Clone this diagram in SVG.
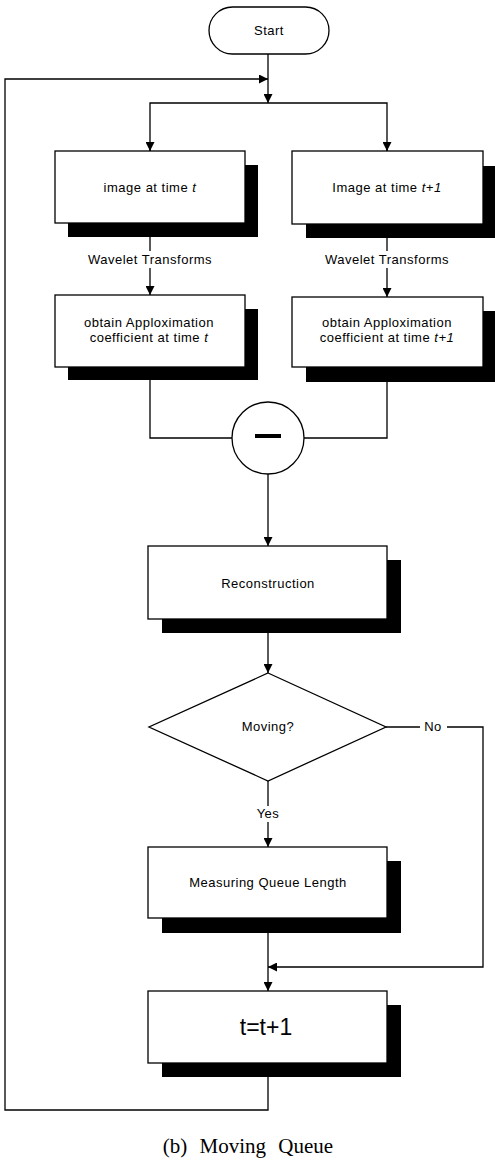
<svg xmlns="http://www.w3.org/2000/svg" width="495" height="1161" viewBox="0 0 495 1161">
<defs>
<style>
.box{fill:#fff;stroke:#000;stroke-width:1.3}
.sh{fill:#000}
.ln{fill:none;stroke:#000;stroke-width:1.3}
.t{font-family:"Liberation Sans",Arial,sans-serif;font-size:13px;letter-spacing:0.5px;fill:#000;text-anchor:middle}
.cap{font-family:"Liberation Serif","Times New Roman",serif;font-size:21px;word-spacing:7px;fill:#000;text-anchor:middle}
</style>
<marker id="ah" viewBox="0 0 10 10" refX="10" refY="5" markerWidth="9" markerHeight="9" markerUnits="userSpaceOnUse" orient="auto">
<path d="M0,0 L10,5 L0,10 Z" fill="#000"/>
</marker>
</defs>
<rect width="495" height="1161" fill="#fff"/>

<g id="connectors">
<polyline class="ln" points="268,1077 268,1110 5,1110 5,79 268,79" marker-end="url(#ah)"/>
<line class="ln" x1="268" y1="54" x2="268" y2="103" marker-end="url(#ah)"/>
<polyline class="ln" points="150,151 150,103 387,103 387,151"/>
<line class="ln" x1="150" y1="142" x2="150" y2="151" marker-end="url(#ah)"/>
<line class="ln" x1="387" y1="142" x2="387" y2="151" marker-end="url(#ah)"/>
<line class="ln" x1="150" y1="237" x2="150" y2="251"/>
<line class="ln" x1="150" y1="268" x2="150" y2="295" marker-end="url(#ah)"/>
<line class="ln" x1="387" y1="238" x2="387" y2="251"/>
<line class="ln" x1="387" y1="268" x2="387" y2="297" marker-end="url(#ah)"/>
<polyline class="ln" points="150,380 150,438 232,438"/>
<polyline class="ln" points="387,382 387,438 304,438"/>
<line class="ln" x1="268" y1="474" x2="268" y2="546" marker-end="url(#ah)"/>
<line class="ln" x1="268" y1="633" x2="268" y2="673" marker-end="url(#ah)"/>
<line class="ln" x1="268" y1="781" x2="268" y2="806"/>
<line class="ln" x1="268" y1="822" x2="268" y2="847" marker-end="url(#ah)"/>
<line class="ln" x1="386" y1="727" x2="420" y2="727"/>
<polyline class="ln" points="447,727 483,727 483,967 268,967" marker-end="url(#ah)"/>
<line class="ln" x1="268" y1="933" x2="268" y2="991" marker-end="url(#ah)"/>
<text class="t" x="150" y="264">Wavelet Transforms</text>
<text class="t" x="387" y="264">Wavelet Transforms</text>
<text class="t" x="268" y="818">Yes</text>
<text class="t" x="433" y="731">No</text>
</g>

<g id="start">
<rect class="box" x="209" y="7" width="120" height="47" rx="23.5"/>
<text class="t" x="269" y="35">Start</text>
</g>

<g id="img-t">
<rect class="sh" x="68" y="165" width="190" height="72"/>
<rect class="box" x="55" y="151" width="190" height="72"/>
<text class="t" x="150" y="192">image at time <tspan font-style="italic">t</tspan></text>
</g>

<g id="img-t1">
<rect class="sh" x="306" y="166" width="191" height="72"/>
<rect class="box" x="292" y="151" width="191" height="73"/>
<text class="t" x="387" y="192">Image at time <tspan font-style="italic">t+1</tspan></text>
</g>

<g id="coef-t">
<rect class="sh" x="68" y="309" width="190" height="71"/>
<rect class="box" x="55" y="295" width="190" height="72"/>
<text class="t" x="149" y="327">obtain Apploximation</text>
<text class="t" x="149" y="342">coefficient at time <tspan font-style="italic">t</tspan></text>
</g>

<g id="coef-t1">
<rect class="sh" x="306" y="311" width="191" height="71"/>
<rect class="box" x="292" y="297" width="191" height="70"/>
<text class="t" x="387" y="327">obtain Apploximation</text>
<text class="t" x="387" y="342">coefficient at time <tspan font-style="italic">t+1</tspan></text>
</g>

<g id="minus">
<circle class="box" cx="268" cy="438" r="36"/>
<rect x="255" y="434" width="26" height="4" fill="#000"/>
</g>

<g id="reconstruction">
<rect class="sh" x="162" y="560" width="239" height="73"/>
<rect class="box" x="148" y="546" width="239" height="73"/>
<text class="t" x="268" y="588">Reconstruction</text>
</g>

<g id="moving">
<polygon class="box" points="268,673 386,727 268,781 149,727"/>
<text class="t" x="268" y="731">Moving?</text>
</g>

<g id="measuring">
<rect class="sh" x="162" y="861" width="239" height="72"/>
<rect class="box" x="148" y="847" width="239" height="71"/>
<text class="t" x="268" y="887">Measuring Queue Length</text>
</g>

<g id="increment">
<rect class="sh" x="162" y="1005" width="239" height="72"/>
<rect class="box" x="148" y="991" width="239" height="72"/>
<text x="266" y="1035" font-family="'Liberation Sans',Arial,sans-serif" font-size="23" text-anchor="middle" fill="#000">t=t+1</text>
</g>

<text class="cap" x="248" y="1153">(b) Moving Queue</text>
</svg>
